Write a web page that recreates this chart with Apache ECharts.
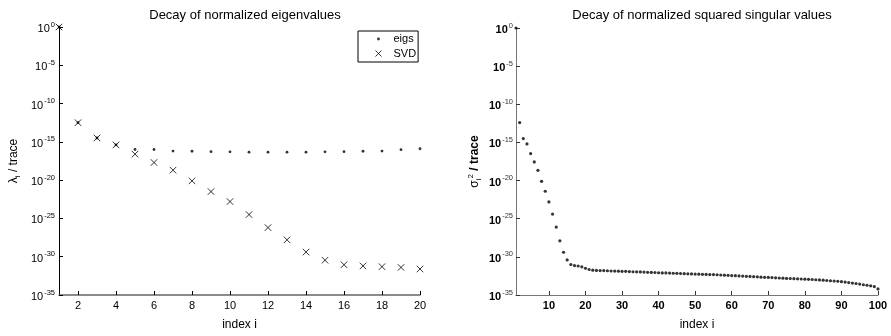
<!DOCTYPE html>
<html>
<head>
<meta charset="utf-8">
<script src="https://cdn.jsdelivr.net/npm/echarts@6/dist/echarts.min.js"></script>
<style>html,body{margin:0;padding:0;background:#fff}#c{width:891px;height:336px}</style>
</head>
<body>
<div id="c"></div>
<script>
// ---- data ----
const leftIndex = [1,2,3,4,5,6,7,8,9,10,11,12,13,14,15,16,17,18,19,20];
const eigsValues = [1, 3.2e-13, 3.2e-15, 4.0e-16, 1.0e-16, 1.0e-16, 6.3e-17, 5.9e-17, 5.2e-17, 5.0e-17,
  4.5e-17, 4.5e-17, 4.5e-17, 4.5e-17, 5.0e-17, 5.2e-17, 5.9e-17, 6.3e-17, 9.5e-17, 1.26e-16];
const svdValues = [1, 3.2e-13, 3.2e-15, 4.0e-16, 2.5e-17, 2.0e-18, 2.0e-19, 8.0e-21, 3.2e-22, 1.6e-23,
  3.2e-25, 6.3e-27, 1.6e-28, 4.0e-30, 3.5e-31, 8.9e-32, 6.3e-32, 5.0e-32, 4.0e-32, 2.5e-32];
const singValues = [1, 4.0e-13, 3.2e-15, 6.3e-16, 3.5e-17, 2.8e-18, 2.2e-19, 7.9e-21, 4.0e-22, 1.6e-23,
  4.0e-25, 7.9e-27, 1.26e-28, 4.0e-30, 4.0e-31, 1.0e-31, 7.1e-32, 6.3e-32, 5.0e-32, 3.2e-32,
  2.2e-32, 1.8e-32, 1.66e-32, 1.6e-32, 1.6e-32, 1.5e-32, 1.4e-32, 1.38e-32, 1.32e-32, 1.26e-32,
  1.26e-32, 1.17e-32, 1.12e-32, 1.1e-32, 1.05e-32, 1.0e-32, 9.5e-33, 9.1e-33, 8.9e-33, 8.3e-33,
  7.9e-33, 7.9e-33, 7.4e-33, 7.1e-33, 6.9e-33, 6.6e-33, 6.3e-33, 6.0e-33, 5.8e-33, 5.6e-33,
  5.4e-33, 5.2e-33, 5.0e-33, 4.8e-33, 4.7e-33, 4.5e-33, 4.2e-33, 4.0e-33, 3.8e-33, 3.5e-33,
  3.4e-33, 3.2e-33, 3.0e-33, 2.8e-33, 2.7e-33, 2.5e-33, 2.4e-33, 2.2e-33, 2.1e-33, 2.0e-33,
  1.9e-33, 1.8e-33, 1.7e-33, 1.6e-33, 1.5e-33, 1.45e-33, 1.38e-33, 1.32e-33, 1.26e-33, 1.2e-33,
  1.12e-33, 1.07e-33, 1.0e-33, 9.5e-34, 8.9e-34, 7.9e-34, 7.4e-34, 6.8e-34, 6.3e-34, 5.6e-34,
  5.0e-34, 4.3e-34, 3.7e-34, 3.2e-34, 2.7e-34, 2.2e-34, 1.9e-34, 1.6e-34, 1.26e-34, 6.3e-35];
const leftTicks = [2,4,6,8,10,12,14,16,18,20];
const rightTicks = [10,20,30,40,50,60,70,80,90,100];
const titles = ['Decay of normalized eigenvalues', 'Decay of normalized squared singular values'];
const legendNames = ['eigs', 'SVD'];

const FONT = 'Liberation Sans';
const toLog = v => Math.log10(v);

function yLabel(bold) {
  return {
    margin: bold ? 3 : 4,
    formatter: v => '{b|10}{e|' + v + '}',
    rich: {
      b: { fontFamily: FONT, fontSize: 11, fontWeight: bold ? 'bold' : 'normal', color: '#000', lineHeight: 15, verticalAlign: 'bottom' },
      e: { fontFamily: FONT, fontSize: 7.5, color: bold ? '#333' : '#000', lineHeight: 15, verticalAlign: 'top', padding: [1,0,0,1] }
    }
  };
}

const chart = echarts.init(document.getElementById('c'), null, { renderer: 'canvas' });
chart.setOption({
  animation: false,
  backgroundColor: '#fff',
  title: [
    { text: titles[0], left: 240, top: 4, textAlign: 'center',
      textStyle: { fontFamily: FONT, fontSize: 13, fontWeight: 'normal', color: '#000' } },
    { text: titles[1], left: 697, top: 4, textAlign: 'center',
      textStyle: { fontFamily: FONT, fontSize: 13, fontWeight: 'normal', color: '#000' } }
  ],
  legend: {
    orient: 'vertical', left: 358, top: 31,
    padding: [2, 2, 0, 8], itemGap: 0, itemWidth: 20, itemHeight: 12,
    borderColor: '#000', borderWidth: 1, backgroundColor: '#fff', borderRadius: 0,
    textStyle: { fontFamily: FONT, fontSize: 11, color: '#000', lineHeight: 12 },
    data: [
      { name: legendNames[0], icon: 'path://M0,0M20,12M8.6,6a1.4,1.4 0 1,0 2.8,0a1.4,1.4 0 1,0 -2.8,0z',
        itemStyle: { color: '#000', borderWidth: 0 } },
      { name: legendNames[1], icon: 'path://M0,0M20,12M7,3L13,9M13,3L7,9',
        itemStyle: { color: 'none', borderColor: '#000', borderWidth: 1 } }
    ]
  },
  grid: [
    { left: 59, top: 27, width: 361, height: 271 },
    { left: 516, top: 28, width: 362, height: 271 }
  ],
  xAxis: [
    { gridIndex: 0, type: 'value', min: 1, max: 20,
      name: 'index i', nameLocation: 'middle', nameGap: 24,
      nameTextStyle: { fontFamily: FONT, fontSize: 12, color: '#000' },
      axisLine: { onZero: false, lineStyle: { color: '#666', width: 1.5 } },
      axisTick: { inside: true, length: 4, customValues: leftTicks, lineStyle: { color: '#000' } },
      axisLabel: { customValues: leftTicks, margin: 5, fontFamily: FONT, fontSize: 11, color: '#000' },
      splitLine: { show: false } },
    { gridIndex: 1, type: 'value', min: 1, max: 100,
      name: 'index i', nameLocation: 'middle', nameGap: 24,
      nameTextStyle: { fontFamily: FONT, fontSize: 12, color: '#000' },
      axisLine: { onZero: false, lineStyle: { color: '#777', width: 1 } },
      axisTick: { inside: true, length: 4, customValues: rightTicks, lineStyle: { color: '#333' } },
      axisLabel: { customValues: rightTicks, margin: 5, fontFamily: FONT, fontSize: 11, fontWeight: 'bold', color: '#000' },
      splitLine: { show: false } }
  ],
  yAxis: [
    { gridIndex: 0, type: 'value', min: -35, max: 0, interval: 5,
      name: '{a|λ}{s|i}{a| / trace}', nameLocation: 'middle', nameGap: 37, nameRotate: 90,
      nameTextStyle: { rich: {
        a: { fontFamily: FONT, fontSize: 12, color: '#000', lineHeight: 16, verticalAlign: 'middle' },
        s: { fontFamily: FONT, fontSize: 8, color: '#000', lineHeight: 16, verticalAlign: 'bottom' } } },
      axisLine: { onZero: false, lineStyle: { color: '#000', width: 1 } },
      axisTick: { inside: true, length: 4, lineStyle: { color: '#000' } },
      axisLabel: yLabel(false),
      splitLine: { show: false } },
    { gridIndex: 1, type: 'value', min: -35, max: 0, interval: 5,
      name: '{a|σ}{s|i}{p|2}{b| / trace}', nameLocation: 'middle', nameGap: 33, nameRotate: 90,
      nameTextStyle: { rich: {
        a: { fontFamily: FONT, fontSize: 12, color: '#000', lineHeight: 16, verticalAlign: 'middle' },
        s: { fontFamily: FONT, fontSize: 8, color: '#000', lineHeight: 16, verticalAlign: 'bottom' },
        p: { fontFamily: FONT, fontSize: 8, color: '#000', lineHeight: 16, verticalAlign: 'top' },
        b: { fontFamily: FONT, fontSize: 12, fontWeight: 'bold', color: '#000', lineHeight: 16, verticalAlign: 'middle' } } },
      axisLine: { onZero: false, lineStyle: { color: '#777', width: 1 } },
      axisTick: { inside: true, length: 4, lineStyle: { color: '#333' } },
      axisLabel: yLabel(true),
      splitLine: { show: false } }
  ],
  series: [
    { name: legendNames[0], type: 'scatter', xAxisIndex: 0, yAxisIndex: 0, clip: false,
      symbol: 'circle', symbolSize: 2.8, itemStyle: { color: '#000' },
      data: leftIndex.map((x, i) => [x, toLog(eigsValues[i])]) },
    { name: legendNames[1], type: 'scatter', xAxisIndex: 0, yAxisIndex: 0, clip: false,
      symbol: 'path://M0,0L10,10M10,0L0,10', symbolSize: 6.5,
      itemStyle: { color: 'none', borderColor: '#000', borderWidth: 1 },
      data: leftIndex.map((x, i) => [x, toLog(svdValues[i])]) },
    { name: 'sv', type: 'scatter', xAxisIndex: 1, yAxisIndex: 1, clip: false,
      symbol: 'circle', symbolSize: 3.2, itemStyle: { color: '#000' },
      data: singValues.map((v, i) => [i + 1, toLog(v)]) }
  ]
});
</script>
</body>
</html>
